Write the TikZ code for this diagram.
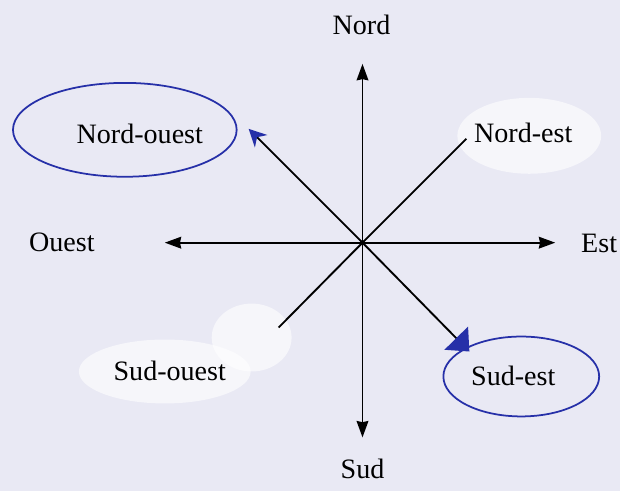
\documentclass[tikz,border=0pt]{standalone}
\usepackage{fontspec}
\setmainfont{Liberation Serif}
\usetikzlibrary{arrows.meta, positioning}
\definecolor{paper}{RGB}{233,233,244}
\definecolor{pen}{RGB}{38,48,168}

\begin{document}
\begin{tikzpicture}[x=0.03cm, y=-0.03cm, font=\fontsize{24}{28}\selectfont,
    axis/.style={-{Stealth[length=14pt, width=10pt, inset=1pt]}, line width=1.6pt},
    ray/.style={line width=1.6pt},
    ring/.style={draw=pen, line width=1.5pt},
    blank/.style={fill=white, opacity=0.6}
]
\fill[paper] (0,0) rectangle (621,492);

% white-out patches
\fill[blank] (530,136) ellipse [x radius=72, y radius=38];
\fill[blank] (165,372) ellipse [x radius=86, y radius=32];
\fill[blank] (252,338) ellipse [x radius=40, y radius=34];

% hand drawn rings
\draw[ring] (125,130) ellipse [x radius=112, y radius=47];
\draw[ring] (522,377) ellipse [x radius=78, y radius=40];

% labels
\node (nord) at (362,25) {Nord};
\node (sud) at (363,470) {Sud};
\node (ouest) at (62,243) {Ouest};
\node (est) at (600,244) {Est};
\node (no) at (140,134) {Nord-ouest};
\node (ne) at (524,133) {Nord-est};
\node (so) at (170,371) {Sud-ouest};
\node (se) at (514,376) {Sud-est};

% rose
\coordinate (c) at (363,243);
\coordinate (ntip) at (363,64);
\coordinate (stip) at (363,438);
\coordinate (otip) at (165,243);
\coordinate (etip) at (556,243);
\coordinate (notip) at (249,129);
\coordinate (netip) at (467,139);
\coordinate (sotip) at (279,328);
\coordinate (setip) at (470,352);

\fill (c) circle (2.5);
\draw[axis] (c) -- (ntip);
\draw[axis] (c) -- (stip);
\draw[axis] (c) -- (otip);
\draw[axis] (c) -- (etip);
\draw[ray, -{Stealth[length=15pt, width=15pt, color=pen]}] (c) -- (notip);
\draw[ray] (c) -- (netip);
\draw[ray] (c) -- (sotip);
\draw[ray, -{Triangle[length=16pt, width=28pt, color=pen]}] (c) -- (setip);
\end{tikzpicture}
\end{document}
